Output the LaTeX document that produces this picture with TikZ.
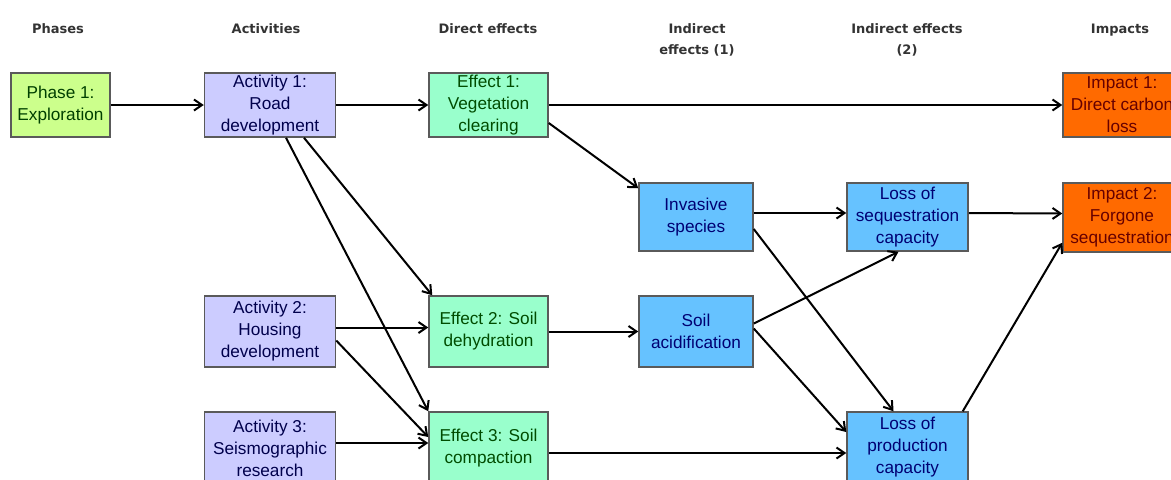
\documentclass[tikz,border=0pt]{standalone}
\usepackage{fontspec}
\setmainfont{Liberation Sans}
\newfontfamily\headfont{DejaVu Sans}
\usetikzlibrary{arrows.meta, positioning}
\usepackage{xcolor}
\definecolor{phasefill}{HTML}{CCFF8C}
\definecolor{actfill}{HTML}{CCCCFF}
\definecolor{efffill}{HTML}{99FFCC}
\definecolor{indfill}{HTML}{66C2FF}
\definecolor{impfill}{HTML}{FF6A00}
\definecolor{boxline}{HTML}{5A5A5A}
\definecolor{headtext}{HTML}{333333}

\begin{document}
\begin{tikzpicture}[
    x=0.5pt, y=-0.5pt,
    box/.style={rectangle, draw=boxline, line width=0.75pt, inner sep=0pt, align=center, font=\fontsize{8.6}{11}\selectfont, minimum height=32pt},
    phasebox/.style={box, fill=phasefill, text=green!25!black, minimum width=49.5pt},
    actbox/.style={box, fill=actfill, text=blue!30!black, minimum width=65.5pt},
    effbox/.style={box, fill=efffill, text=green!30!black, minimum width=59.5pt},
    indbox/.style={box, fill=indfill, text=blue!45!black},
    impbox/.style={box, fill=impfill, text=red!40!black, minimum width=59pt},
    head/.style={anchor=north, align=center, text=headtext, font=\headfont\bfseries\fontsize{6.5}{10.5}\selectfont},
    arrow/.style={-{Straight Barb[length=4pt,width=5.5pt]}, line width=1pt}
]
\useasboundingbox (0,0) rectangle (1171,479);
\clip (0,0) rectangle (1171,479);

% column heads
\node[head] (hphase) at (58,17) {Phases};
\node[head] (hact) at (266,17) {Activities};
\node[head] (heff) at (488,17) {Direct effects};
\node[head] (hind1) at (697,17) {Indirect\\effects (1)};
\node[head] (hind2) at (907,17) {Indirect effects\\(2)};
\node[head] (himp) at (1120,17) {Impacts};

% row 1
\node[phasebox] (phase) at (60.5,105) {Phase 1:\\Exploration};
\node[actbox] (act1) at (270,105) {Activity 1:\\Road\\development};
\node[effbox] (eff1) at (488.5,105) {Effect 1:\\Vegetation\\clearing};
\node[impbox] (imp1) at (1122,105) {Impact 1:\\Direct carbon\\loss};

% row 2
\node[indbox, minimum width=57pt, minimum height=34pt] (invasive) at (696,217) {Invasive\\species};
\node[indbox, minimum width=60.5pt, minimum height=34pt] (seqloss) at (907.5,217) {Loss of\\sequestration\\capacity};
\node[impbox, minimum height=34.5pt] (imp2) at (1122,217.5) {Impact 2:\\Forgone\\sequestration};

% row 3
\node[actbox, minimum height=35.5pt] (act2) at (270,331.5) {Activity 2:\\Housing\\development};
\node[effbox, minimum height=35.5pt] (eff2) at (488.5,331.5) {Effect 2: Soil\\dehydration};
\node[indbox, minimum width=57pt, minimum height=35.5pt] (soilacid) at (696,331.5) {Soil\\acidification};

% row 4
\node[actbox, minimum height=36pt] (act3) at (270,448) {Activity 3:\\Seismographic\\research};
\node[effbox, minimum height=36pt] (eff3) at (488.5,448) {Effect 3: Soil\\compaction};
\node[indbox, minimum width=60.5pt, minimum height=35pt] (prodloss) at (907.5,447) {Loss of\\production\\capacity};

% connectors
\draw[arrow] (phase) -- (act1);
\draw[arrow] (act1) -- (eff1);
\draw[arrow] (eff1) -- (imp1);
\draw[arrow] ([yshift=-9pt]eff1.east) -- ([yshift=-3pt]invasive.north west);
\draw[arrow] ([xshift=17pt]act1.south) -- ([xshift=2pt]eff2.north west);
\draw[arrow] ([xshift=8pt]act1.south) -- (eff3.north west);
\draw[arrow] ([yshift=2pt]act2.east) -- ([yshift=2pt]eff2.west);
\draw[arrow] ([yshift=-4.5pt]act2.east) -- ([yshift=5.5pt]eff3.west);
\draw[arrow] ([yshift=2.5pt]act3.east) -- ([yshift=2.5pt]eff3.west);
\draw[arrow] (eff2) -- (soilacid);
\draw[arrow] ([yshift=-2.5pt]eff3.east) -- ([yshift=-3pt]prodloss.west);
\draw[arrow] ([yshift=2pt]invasive.east) -- ([yshift=2pt]seqloss.west);
\draw[arrow] ([yshift=-6pt]invasive.east) -- ([xshift=-7pt]prodloss.north);
\draw[arrow] ([yshift=4pt]soilacid.east) -- ([xshift=-4.5pt]seqloss.south);
\draw[arrow] ([yshift=1.5pt]soilacid.east) -- ([yshift=7.5pt]prodloss.west);
\draw[arrow] ([yshift=2pt]seqloss.east) -- ([yshift=2pt]imp2.west);
\draw[arrow] ([xshift=-3pt]prodloss.north east) -- ([yshift=5pt]imp2.south west);

\end{tikzpicture}
\end{document}
